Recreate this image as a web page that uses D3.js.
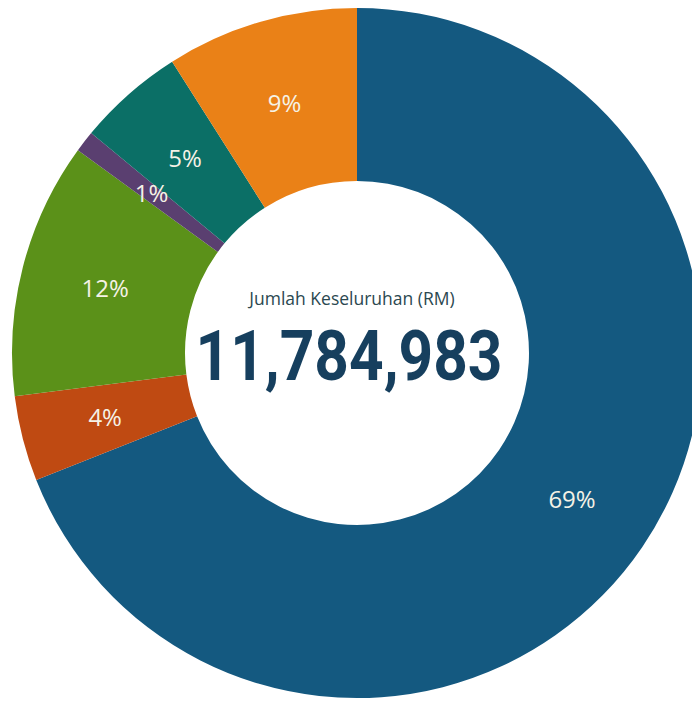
<!DOCTYPE html>
<html lang="ms">
<head>
    <meta charset="UTF-8">
    <title>Jumlah Keseluruhan (RM)</title>
    <style>
        html, body {
            margin: 0;
            padding: 0;
            background: #fff;
        }

        svg {
            display: block;
        }

        .slice-label {
            font-family: "Open Sans", "Noto Sans", sans-serif;
            font-size: 24px;
            fill: #f5f2e6;
        }

        .total-caption {
            font-family: "Open Sans", "Noto Sans", sans-serif;
            font-size: 17.5px;
            fill: #2b4850;
        }

        .total-value {
            font-family: Roboto, "Liberation Sans", sans-serif;
            font-weight: bold;
            font-size: 71px;
            fill: #163f5e;
        }
    </style>
</head>
<body>
    <svg id="chart"></svg>
    <script src="https://d3js.org/d3.v7.min.js"></script>
    <script>
        // Data, clockwise from 12 o'clock
        const categories = ["A", "B", "C", "D", "E", "F"];
        const shares = [69, 4, 12, 1, 5, 9];
        const labels = ["69%", "4%", "12%", "1%", "5%", "9%"];
        const colours = ["#145980", "#bf4a12", "#5b9119", "#5a3f70", "#0b6f66", "#ea8117"];
        const caption = "Jumlah Keseluruhan (RM)";
        const total = "11,784,983";

        const width = 692, height = 701;
        const cx = 357, cy = 353;
        const outerR = 345, innerR = 172, labelR = 260;

        const svg = d3.select("#chart")
            .attr("width", width)
            .attr("height", height);

        const g = svg.append("g")
            .attr("transform", "translate(" + cx + "," + cy + ")");

        const pie = d3.pie().sort(null).value(d => d.value);
        const arcs = pie(categories.map((c, i) => ({ name: c, value: shares[i], label: labels[i] })));

        const arc = d3.arc().innerRadius(innerR).outerRadius(outerR);
        const labelArc = d3.arc().innerRadius(labelR).outerRadius(labelR);

        g.selectAll("path.slice")
            .data(arcs)
            .enter().append("path")
            .attr("class", "slice")
            .attr("d", arc)
            .attr("fill", (d, i) => colours[i]);

        g.selectAll("text.slice-label")
            .data(arcs)
            .enter().append("text")
            .attr("class", "slice-label")
            .attr("transform", d => "translate(" + labelArc.centroid(d) + ")")
            .attr("text-anchor", "middle")
            .attr("dy", "0.36em")
            .text(d => d.data.label);

        // Centre text
        g.append("text")
            .attr("class", "total-caption")
            .attr("text-anchor", "middle")
            .attr("x", -5)
            .attr("y", -48)
            .text(caption);

        g.append("text")
            .attr("class", "total-value")
            .attr("text-anchor", "middle")
            .attr("x", -8)
            .attr("y", 27)
            .attr("textLength", 307)
            .attr("lengthAdjust", "spacingAndGlyphs")
            .text(total);
    </script>
</body>
</html>
